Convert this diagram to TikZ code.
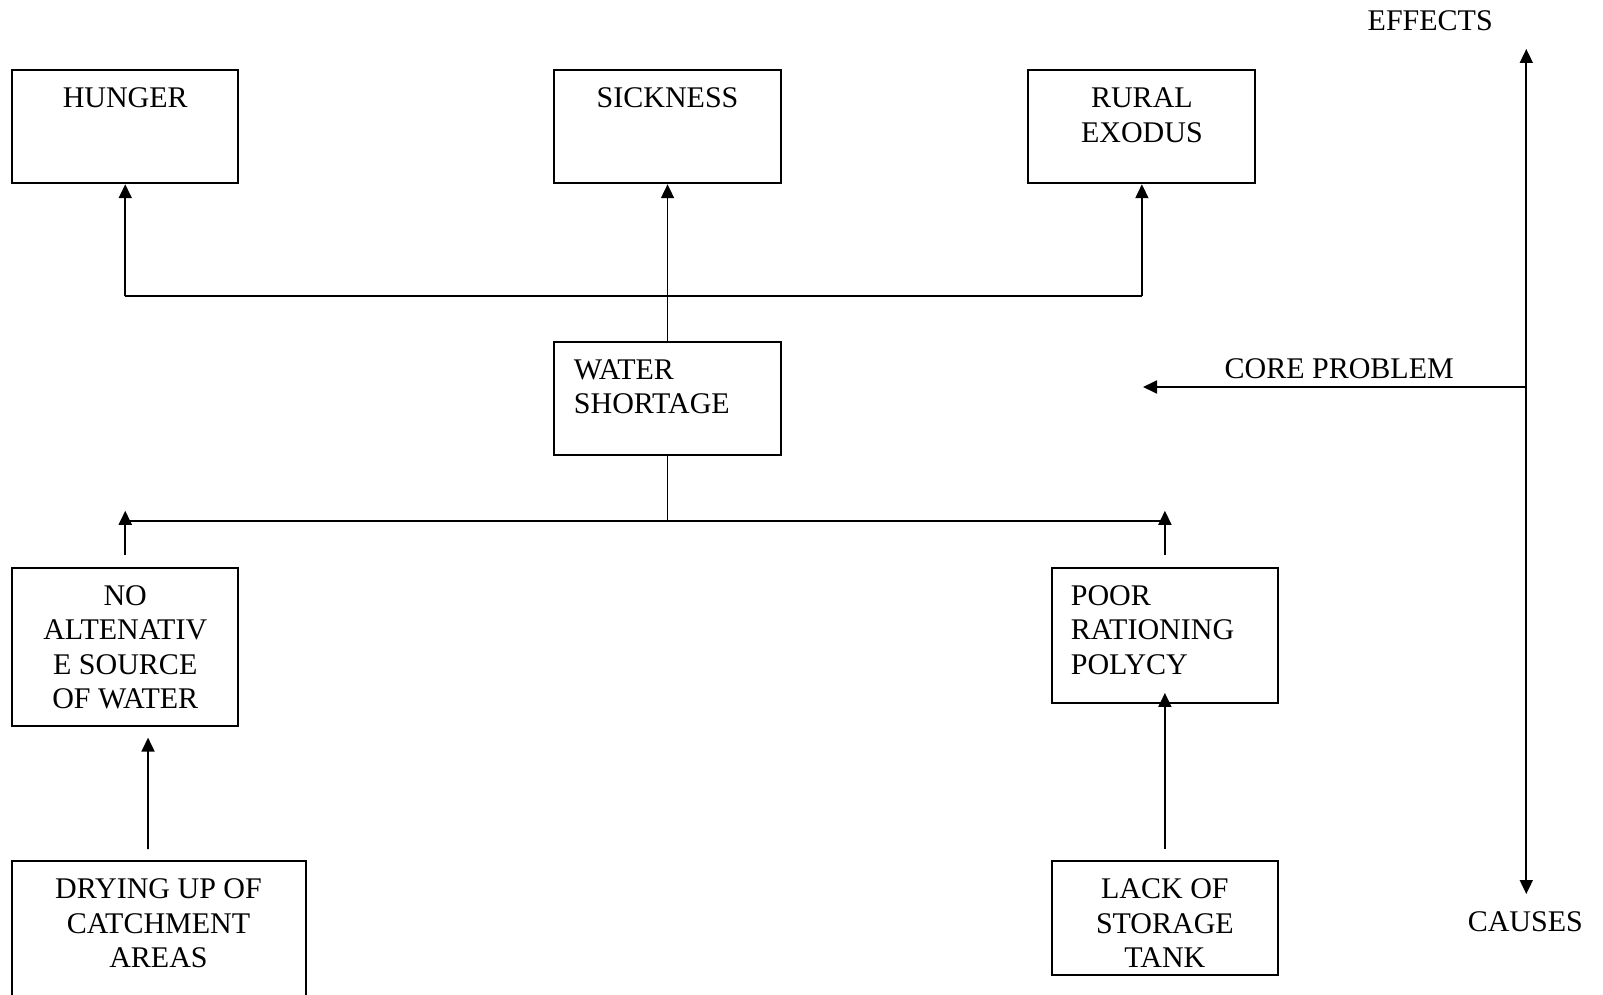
\documentclass[tikz,border=0pt]{standalone}
\usepackage{fontspec}
\setmainfont{Liberation Serif}
\usetikzlibrary{arrows.meta}

\tikzset{
  box/.style={draw, line width=0.95pt, inner sep=0pt},
  boxtext/.style={font=\fontsize{15}{17.25}\selectfont, inner sep=0pt, align=#1},
  boxtext/.default=center,
  link/.style={line width=0.9pt},
  arr/.style={link, -{Triangle[length=7pt, width=6.5pt]}},
  dblarr/.style={link, {Triangle[length=7pt, width=6.5pt]}-{Triangle[length=7pt, width=6.5pt]}},
}

\begin{document}
\begin{tikzpicture}[x=0.5pt, y=-0.5pt]
        \useasboundingbox (0,0) rectangle (1603,995);

        % Effects
        \node[box, minimum width=113pt, minimum height=56.5pt] (hunger) at (125.25,126.8) {};
        \node[box, minimum width=113.45pt, minimum height=56.5pt] (sickness) at (667.55,126.8) {};
        \node[box, minimum width=113.5pt, minimum height=56.5pt] (rural) at (1141.9,126.8) {};
        \node[boxtext, anchor=north] (hungertxt) at ([yshift=-9pt]hunger.north) {HUNGER};
        \node[boxtext, anchor=north] (sicknesstxt) at ([yshift=-9pt]sickness.north) {SICKNESS};
        \node[boxtext, anchor=north] (ruraltxt) at ([yshift=-9pt]rural.north) {RURAL\\EXODUS};

        % Core problem
        \node[box, minimum width=113.45pt, minimum height=56.5pt] (water) at (667.55,398.2) {};
        \node[boxtext=left, anchor=north west] (watertxt) at ([xshift=10.2pt, yshift=-9.2pt]water.north west) {WATER\\SHORTAGE};

        % Causes
        \node[box, minimum width=113pt, minimum height=79.15pt] (noalt) at (125.25,646.85) {};
        \node[box, minimum width=113pt, minimum height=67.65pt] (poor) at (1164.9,635.35) {};
        \node[box, minimum width=146.7pt, minimum height=74.5pt] (drying) at (159,935.5) {};
        \node[box, minimum width=113pt, minimum height=57pt] (lack) at (1164.9,918) {};
        \node[boxtext, anchor=north] (noalttxt) at ([yshift=-9.2pt]noalt.north) {NO\\ALTENATIV\\E SOURCE\\OF WATER};
        \node[boxtext=left, anchor=north west] (poortxt) at ([xshift=9.75pt, yshift=-9.2pt]poor.north west) {POOR\\RATIONING\\POLYCY};
        \node[boxtext, anchor=north] (dryingtxt) at ([xshift=-0.25pt, yshift=-9.2pt]drying.north) {DRYING UP OF\\CATCHMENT\\AREAS};
        \node[boxtext, anchor=north] (lacktxt) at ([yshift=-9.2pt]lack.north) {LACK OF\\STORAGE\\TANK};

        % Upper tree
        \coordinate (topl) at (125.25,296.3);
        \coordinate (topr) at (1141.9,296.3);
        \draw[link] (topl) -- (topr);
        \draw[arr] (topl) -- (hunger);
        \draw[arr] (topr) -- (rural);
        \draw[arr] (water) -- (sickness);

        % Lower tree
        \coordinate (botl) at ([yshift=22.7pt]noalt.north);
        \coordinate (botr) at ([yshift=22.7pt]poor.north);
        \draw[link] (water.south) -- (water.south |- botl);
        \draw[link] (botl) -- (botr);
        \draw[arr] ([yshift=5.85pt]noalt.north) -- ([yshift=28pt]noalt.north);
        \draw[arr] ([yshift=5.85pt]poor.north) -- ([yshift=28pt]poor.north);
        \draw[arr] ([xshift=-5.5pt, yshift=5.5pt]drying.north) -- ([xshift=11.4pt, yshift=-5.35pt]noalt.south);
        \draw[arr] ([yshift=5.5pt]lack.north) -- ([yshift=5.5pt]poor.south);

        % Axis on the right
        \node[boxtext] (effects) at (1430.2,20.7) {EFFECTS};
        \node[boxtext] (coreprob) at (1339.2,368.3) {CORE PROBLEM};
        \node[boxtext] (causes) at (1525.3,921.7) {CAUSES};
        \coordinate (axtop) at (1526.3,49);
        \coordinate (axbot) at (1526.3,894);
        \coordinate (coretip) at (1143,387);
        \draw[dblarr] (axtop) -- (axbot);
        \draw[arr] (axtop |- coretip) -- (coretip);
\end{tikzpicture}
\end{document}
